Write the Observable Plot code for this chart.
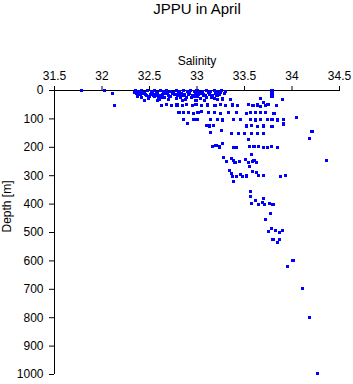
<!DOCTYPE html>
<html>
<head>
<meta charset="utf-8">
<script src="https://cdn.jsdelivr.net/npm/d3@7"></script>
<script src="https://cdn.jsdelivr.net/npm/@observablehq/plot@0.6"></script>
<style>
  html, body { margin: 0; padding: 0; background: #fff; }
  svg { display: block; }
</style>
</head>
<body>
<div id="chart"></div>
<script>
const title = "JPPU in April";
const xLabel = "Salinity";
const yLabel = "Depth [m]";
const xTicks = [31.5, 32, 32.5, 33, 33.5, 34, 34.5];
const yTicks = [0, 100, 200, 300, 400, 500, 600, 700, 800, 900, 1000];

const salinity = [
  31.78, 32.03, 32.11, 32.13,
  32.35, 32.38, 32.42, 32.45, 32.48, 32.52, 32.55, 32.58, 32.62, 32.65, 32.68, 32.72, 32.75, 32.78,
  32.82, 32.86, 32.90, 32.93, 32.97, 33.00, 33.03, 33.06, 33.10, 33.14, 33.18, 33.22, 33.26, 33.30,
  32.36, 32.40, 32.44, 32.47, 32.51, 32.54, 32.57, 32.61, 32.64, 32.67, 32.70, 32.74, 32.77,
  32.80, 32.84, 32.87, 32.91, 32.95, 32.98, 33.02, 33.05, 33.09, 33.13, 33.16, 33.20, 33.24,
  32.42, 32.49, 32.55, 32.60, 32.66, 32.72, 32.78, 32.83, 32.88, 32.94, 33.00, 33.04, 33.10, 33.18, 33.27, 33.35,
  32.34, 32.37, 32.40, 32.46, 32.50, 32.53, 32.59, 32.63, 32.69, 32.71, 32.76, 32.81, 32.85, 32.89,
  32.92, 32.96, 33.01, 33.07, 33.12, 33.15, 33.21, 33.25, 33.29, 32.45, 32.58, 32.70, 32.85, 32.99, 33.08, 33.22,
  33.79, 33.79, 33.79, 33.79, 33.67, 33.70, 33.74, 33.84, 33.90,
  32.63, 32.68, 32.73, 32.79, 32.85, 32.89, 32.95, 32.99, 33.05, 33.11, 33.19, 33.25, 33.30, 33.37,
  33.43, 33.54, 33.59, 33.64, 33.67, 33.72, 33.75,
  32.81, 32.86, 32.91, 32.96, 33.01, 33.05, 33.12, 33.18, 33.25, 33.33, 33.42, 33.52, 33.56, 33.62,
  33.67, 33.72, 33.81,
  32.86, 32.96, 33.00, 33.14, 33.22, 33.27, 33.38, 33.46, 33.56, 33.62, 33.67, 33.74, 33.79, 33.85, 33.91, 34.05,
  32.90, 33.10, 33.13, 33.17, 33.52, 33.57, 33.64, 33.70, 33.79, 33.91,
  33.14, 33.26, 33.36, 33.44, 33.50, 33.57, 33.64, 33.70, 34.21, 34.18,
  33.54,
  33.16, 33.20, 33.24, 33.27, 33.38, 33.41, 33.55, 33.60, 33.65, 33.70, 33.74, 33.78, 33.85,
  33.57,
  33.28, 33.31, 33.36, 33.38, 33.40, 33.45, 33.51, 33.54, 33.58, 33.60, 33.63, 34.36,
  33.34, 33.36, 33.37, 33.42, 33.46, 33.48, 33.52, 33.55, 33.58, 33.63, 33.65, 33.70, 33.88, 33.93,
  33.38,
  33.56, 33.56, 33.57, 33.62, 33.65, 33.69, 33.70, 33.71, 33.76, 33.80,
  33.77, 33.72,
  33.78, 33.75, 33.83, 33.87, 33.90, 33.80, 33.87, 33.85,
  34.01, 33.95, 34.11, 34.18, 34.27
];
const depth = [
  1, 1, 12, 52,
  0, 3, 0, 6, 1, 3, 0, 7, 1, 4, 0, 2, 7, 1,
  3, 0, 5, 1, 3, 0, 6, 2, 0, 4, 1, 3, 0, 2,
  12, 15, 10, 18, 13, 16, 11, 19, 14, 10, 17, 12, 15,
  19, 11, 16, 13, 18, 10, 15, 12, 17, 13, 19, 11, 15,
  24, 28, 22, 30, 25, 21, 27, 23, 31, 26, 22, 29, 24, 27, 30, 32,
  8, 20, 5, 14, 22, 9, 17, 25, 8, 20, 13, 6, 18, 26,
  9, 21, 12, 16, 8, 24, 18, 7, 12, 34, 35, 33, 34, 35, 36, 33,
  0, 8, 15, 22, 29, 41, 49, 52, 33,
  52, 50, 53, 51, 54, 50, 52, 49, 53, 51, 52, 50, 54, 51,
  52, 50, 53, 51, 55, 52, 50,
  77, 79, 76, 80, 78, 75, 79, 77, 81, 78, 76, 80, 78, 77,
  79, 76, 80,
  102, 103, 101, 103, 101, 104, 102, 103, 101, 104, 102, 103, 101, 104, 102, 96,
  117, 122, 125, 123, 125, 123, 127, 125, 127, 118,
  147, 141, 152, 150, 152, 151, 152, 150, 144, 170,
  174,
  196, 194, 199, 188, 200, 200, 197, 196, 197, 202, 202, 197, 202,
  225,
  237, 250, 241, 246, 253, 250, 244, 253, 251, 246, 253, 245,
  283, 293, 303, 303, 296, 303, 301, 268, 284, 289, 298, 300, 303, 298,
  321,
  357, 374, 397, 388, 401, 393, 381, 401, 399, 400,
  432, 455,
  487, 498, 494, 501, 493, 526, 526, 536,
  600, 621, 698, 799, 998
];

const points = salinity.map((s, i) => ({salinity: s, depth: depth[i]}));

const chart = Plot.plot({
  width: 353,
  height: 384,
  marginTop: 90,
  marginLeft: 54,
  marginRight: 14,
  marginBottom: 10,
  style: {fontFamily: "'Liberation Sans', Arial, sans-serif", fontSize: "12px", color: "#000", background: "#fff"},
  x: {domain: [31.5, 34.5]},
  y: {domain: [0, 1000], reverse: true},
  marks: [
    Plot.axisX({anchor: "top", ticks: xTicks, tickSize: 5, tickPadding: 6, tickFormat: d => String(d), label: null, fontSize: 12}),
    Plot.axisY({anchor: "left", ticks: yTicks, tickSize: 5, tickPadding: 6, tickFormat: d => String(d), label: null, fontSize: 12}),
    Plot.ruleY([0], {stroke: "#000"}),
    Plot.ruleX([31.5], {stroke: "#000"}),
    Plot.dot(points, {x: "salinity", y: "depth", symbol: "square", r: 1.75, fill: "#0000ff", stroke: "none", shapeRendering: "crispEdges"}),
    Plot.text([title], {frameAnchor: "top", dy: -77, lineAnchor: "bottom", fontSize: 15, fill: "#000"}),
    Plot.text([xLabel], {frameAnchor: "top", dy: -26, lineAnchor: "bottom", fontSize: 12, fill: "#000"}),
    Plot.text([yLabel], {frameAnchor: "left", dx: -47, rotate: -90, lineAnchor: "middle", fontSize: 12, fill: "#000"})
  ]
});
document.getElementById("chart").append(chart);
</script>
</body>
</html>
